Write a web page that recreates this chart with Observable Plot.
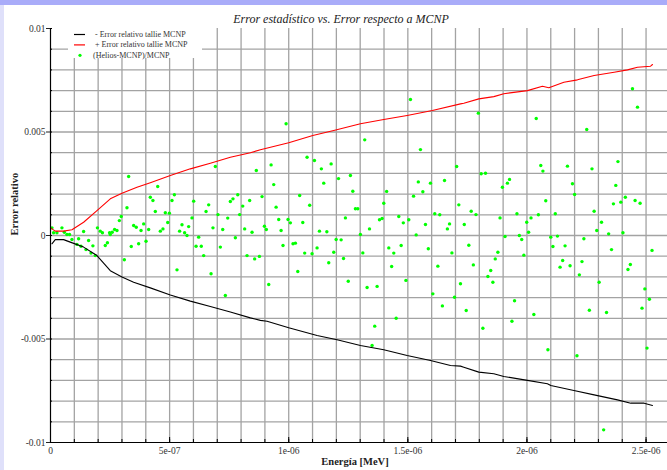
<!DOCTYPE html>
<html>
<head>
<meta charset="utf-8">
<script src="https://cdn.jsdelivr.net/npm/d3@7"></script>
<script src="https://cdn.jsdelivr.net/npm/@observablehq/plot@0.6"></script>
<style>
  html, body { margin: 0; padding: 0; }
  body { width: 667px; height: 470px; overflow: hidden; background: #a9acf9; position: relative; }
  #strip { position: absolute; left: 0; top: 5px; width: 4px; bottom: 0; background: #dfe0fa; }
  #panel { position: absolute; left: 4px; top: 5px; right: 0; bottom: 0; background: #ffffff; }
  #chart { position: absolute; left: 0; top: 0; }
</style>
</head>
<body>
<div id="strip"></div>
<div id="panel"></div>
<div id="chart"></div>
<script>
const SERIF = "'Liberation Serif', 'DejaVu Serif', serif";
const title = "Error estadístico vs. Error respecto a MCNP";
const xLabel = "Energía [MeV]";
const yLabel = "Error relativo";
const legendLabels = ["- Error relativo tallie MCNP", "+ Error relativo tallie MCNP", "(Helios-MCNP)/MCNP"];

const xTicks = [0, 5e-7, 1e-6, 1.5e-6, 2e-6, 2.5e-6];
const xTickLabels = ["0", "5e-07", "1e-06", "1.5e-06", "2e-06", "2.5e-06"];
const yTicks = [-0.01, -0.005, 0, 0.005, 0.01];
const yTickLabels = ["-0.01", "-0.005", "0", "0.005", "0.01"];

// Energies in units of 1e-7 MeV, errors in units of 1e-3
const E_UNIT = 1e-7, ERR_UNIT = 1e-3;

// "- Error relativo tallie MCNP" (black)
const lowerE = [0.06,0.20,0.55,0.83,1.39,1.95,2.51,3.00,3.49,4.19,5.03,5.87,6.71,7.55,8.39,8.81,9.09,10.0,11.19,12.03,13.01,13.99,14.97,15.95,16.79,17.21,17.35,17.98,18.61,19.03,20.02,20.86,21.0,21.97,22.82,23.80,24.36,24.92,25.27];
const lowerErr = [-0.40,-0.20,-0.20,-0.32,-0.56,-0.97,-1.70,-2.00,-2.26,-2.53,-2.87,-3.17,-3.43,-3.70,-3.98,-4.10,-4.14,-4.46,-4.83,-5.04,-5.31,-5.52,-5.80,-6.04,-6.28,-6.31,-6.36,-6.60,-6.68,-6.81,-7.00,-7.16,-7.25,-7.49,-7.70,-7.94,-8.10,-8.10,-8.21];

// "+ Error relativo tallie MCNP" (red)
const upperE = [0,0.20,0.55,0.90,1.39,1.95,2.51,3.0,3.63,4.19,5.03,5.87,6.71,7.55,8.39,8.81,10.0,11.01,11.89,13.01,13.99,14.97,16.03,17.21,17.35,17.98,18.61,19.03,20.02,20.65,20.92,21.55,22.12,22.82,23.66,24.22,24.64,25.19,25.27];
const upperErr = [0.37,0.21,0.21,0.28,0.64,1.20,1.77,2.04,2.33,2.55,2.90,3.22,3.49,3.78,4.00,4.14,4.48,4.83,5.07,5.40,5.60,5.80,6.04,6.36,6.39,6.60,6.71,6.85,7.00,7.21,7.14,7.40,7.52,7.73,7.89,8.00,8.13,8.18,8.26];

// "(Helios-MCNP)/MCNP" (green points)
const diffE = [3.28,4.50,4.19,4.30,5.20,5.10,3.21,2.97,2.89,4.40,4.82,4.99,3.49,3.60,3.80,3.91,4.12,4.61,4.72,4.92,5.42,5.52,5.63,5.73,5.80,5.94,6.01,6.22,6.53,6.64,6.82,6.92,7.03,7.23,7.44,7.55,7.66,7.76,7.86,7.94,8.07,8.15,8.36,8.46,8.64,
0.06,0.13,0.27,0.48,0.58,0.69,0.80,1.39,1.97,2.09,2.18,2.48,2.59,2.69,2.79,0.90,1.18,1.60,
1.11,1.28,1.49,1.70,1.78,1.88,2.30,2.39,2.51,3.10,3.39,3.70,4.01,5.31,6.11,6.33,6.43,6.74,7.13,7.34,8.25,8.57,8.77,
15.11,9.89,13.19,15.53,17.05,9.26,10.77,11.08,11.37,11.78,9.37,11.47,12.09,12.59,12.69,14.11,15.44,15.63,15.95,16.54,15.24,8.88,10.46,10.88,9.47,12.80,12.90,13.99,16.13,16.34,17.14,9.58,9.97,10.07,10.59,8.98,9.06,9.68,11.29,11.60,11.99,12.20,12.38,13.01,13.39,13.81,13.92,14.62,14.81,15.04,15.35,15.74,16.66,16.75,
9.16,9.76,10.18,10.28,10.38,10.67,10.98,11.19,11.68,11.89,12.30,12.50,13.11,13.29,13.61,13.50,13.71,14.20,14.32,14.41,14.51,14.72,14.92,15.86,16.05,16.26,16.45,16.85,16.96,17.21,
24.43,24.64,17.96,20.39,22.51,18.08,18.26,20.58,20.67,21.70,22.73,23.82,19.27,19.18,18.97,21.91,22.00,23.73,20.79,17.66,17.86,17.37,18.87,19.58,19.99,20.17,20.48,21.19,22.82,23.63,23.94,24.13,24.54,24.75,23.13,22.93,23.43,24.03,20.07,19.68,19.08,19.78,21.0,21.28,22.39,
17.45,17.56,17.75,18.15,18.36,18.48,18.57,18.67,18.78,19.37,19.48,19.87,20.29,20.88,21.09,21.39,21.50,21.60,21.81,22.10,22.20,22.31,22.62,23.03,23.22,23.34,23.55,24.24,24.34,24.83,24.95,25.04,25.14,25.25];
const diffErr = [2.85,2.37,1.85,1.69,1.97,1.69,1.34,0.92,0.72,1.16,1.10,1.08,0.48,0.40,0.24,0.56,0.29,0.21,0.32,0.63,0.21,0.52,0.13,0.0,0.43,0.85,1.66,-0.08,1.16,1.48,0.37,3.33,1.01,0.29,0.84,1.64,1.77,-0.11,1.97,1.01,1.42,0.32,1.69,0.16,3.14,
0.37,0.13,0.13,0.37,0.16,0.05,0.05,0.19,0.37,0.21,0.13,0.13,0.16,0.29,0.24,-0.19,-0.16,-0.24,
-0.43,-0.52,-0.68,-0.85,-0.50,-0.97,-0.48,-0.35,0.05,-1.17,-0.53,-0.40,-0.28,-1.66,-0.52,-0.52,-0.97,-1.85,-0.56,-2.90,-0.97,-1.13,-1.01,
6.57,5.40,4.62,4.15,3.33,3.41,3.78,3.62,3.22,3.46,2.46,2.53,2.75,2.90,2.14,2.13,2.59,2.11,2.53,2.66,1.90,1.88,1.93,1.46,1.37,1.29,1.29,1.56,1.05,1.00,1.48,0.77,0.77,0.61,0.63,0.45,0.29,0.24,0.21,0.18,-0.19,-0.21,0.85,0.05,0.32,0.76,0.82,0.92,0.61,0.76,0.03,0.53,0.32,0.56,
-2.37,-0.48,-0.40,-0.37,-1.74,-0.85,-0.88,-0.60,-1.32,-0.81,-1.11,-2.21,-0.84,-2.51,-4.38,-5.31,-2.46,-0.60,-1.50,-0.85,-4.00,-0.48,-2.17,-0.64,-2.82,-1.48,-3.40,-0.84,-2.98,-2.33,
7.09,6.20,5.91,5.65,5.12,2.98,3.01,3.38,3.11,3.35,3.22,3.57,2.71,2.53,2.33,2.50,1.98,2.42,1.68,1.17,1.01,0.53,0.85,1.05,0.64,0.85,1.00,1.05,1.17,1.53,1.61,1.85,1.69,1.56,0.64,0.24,0.08,0.13,0.16,0.0,-0.05,-0.19,-0.08,-0.03,-0.16,
-3.62,-0.47,-1.42,-4.48,-1.98,-1.69,-2.26,-1.13,-0.81,-4.14,-3.15,-0.95,-3.82,-5.52,-0.53,-1.53,-1.21,-0.50,-1.46,-5.81,-1.90,-1.26,-3.61,-2.26,-9.39,-3.72,-0.68,-1.64,-1.40,-3.51,-2.58,-5.44,-3.08,-0.72];

const lower = lowerE.map((e, i) => ({e: e * E_UNIT, v: lowerErr[i] * ERR_UNIT}));
const upper = upperE.map((e, i) => ({e: e * E_UNIT, v: upperErr[i] * ERR_UNIT}));
const diff = diffE.map((e, i) => ({e: e * E_UNIT, v: diffErr[i] * ERR_UNIT}));

const xGrid = d3.range(1, 26).map(i => i * 1e-7);
const yGrid = d3.range(-9, 10).map(i => i * 1e-3);
const yMinor = d3.range(-10, 11).map(i => i * 1e-3);

const W = 667, H = 470, ML = 50, MR = 0, MT = 28, MB = 28;
const frameW = W - ML - MR, frameH = H - MT - MB;
const GRID = "#a3a3a3";

const chart = Plot.plot({
  width: W, height: H,
  marginLeft: ML, marginRight: MR, marginTop: MT, marginBottom: MB,
  style: {background: "transparent", fontFamily: SERIF, fontSize: "9.5px", color: "#222", overflow: "visible"},
  x: {domain: [0, 2.59e-6]},
  y: {domain: [-0.01, 0.01]},
  marks: [
    Plot.ruleY(yGrid, {stroke: GRID, strokeWidth: 1.3}),
    Plot.ruleX(xGrid, {stroke: GRID, strokeWidth: 1.3}),
    Plot.dot(diff, {x: "e", y: "v", r: 1.7, fill: "#00ff00", stroke: "none"}),
    Plot.line(upper, {x: "e", y: "v", stroke: "#ff0000", strokeWidth: 1.1}),
    Plot.line(lower, {x: "e", y: "v", stroke: "#000000", strokeWidth: 1.1}),
    // axis lines
    Plot.ruleX([0], {stroke: "#000", strokeWidth: 1.2}),
    Plot.ruleY([-0.01], {stroke: "#000", strokeWidth: 1.2}),
    // inward minor ticks
    Plot.ruleX(xGrid, {stroke: "#000", strokeWidth: 1, insetTop: frameH - 3}),
    Plot.ruleX(xTicks, {stroke: "#000", strokeWidth: 1, insetTop: frameH - 5}),
    Plot.ruleY(yMinor, {stroke: "#000", strokeWidth: 1, insetRight: frameW - 2}),
    Plot.axisX(xTicks, {tickSize: 0, tickPadding: 5, tickFormat: (d, i) => xTickLabels[i], label: null, fontSize: "9.5px", fill: "#333"}),
    Plot.axisY(yTicks, {tickSize: 4, tickPadding: 1, tickFormat: (d, i) => yTickLabels[i], label: null, fontSize: "9.5px", fill: "#333"}),
    Plot.text([title], {frameAnchor: "top", dy: -14, dx: -18, fontStyle: "italic", fontSize: 12, fill: "#222"}),
    Plot.text([xLabel], {frameAnchor: "bottom", dy: 22, dx: -4, fontWeight: "bold", fontSize: 10.5, fill: "#222"}),
    Plot.text([yLabel], {frameAnchor: "left", dx: -36, rotate: -90, fontWeight: "bold", fontSize: 10.5, fill: "#222"})
  ]
});
document.getElementById("chart").appendChild(chart);

// legend box
const svg = d3.select(chart);
const lg = svg.append("g").attr("font-family", SERIF).attr("font-size", 8).attr("fill", "#333").attr("text-anchor", "start");
lg.append("rect").attr("x", 68).attr("y", 28).attr("width", 134).attr("height", 30).attr("fill", "#fff");
const legendColors = ["#000000", "#ff0000"];
legendLabels.forEach((lab, i) => {
  const cy = 34.5 + i * 10.4;
  if (i < 2) {
    lg.append("line").attr("x1", 74).attr("x2", 85).attr("y1", cy).attr("y2", cy)
      .attr("stroke", legendColors[i]).attr("stroke-width", 1.2);
  } else {
    lg.append("circle").attr("cx", 80).attr("cy", cy).attr("r", 1.6).attr("fill", "#00ff00");
  }
  lg.append("text").attr("x", i < 2 ? 95 : 93).attr("y", cy).attr("dy", "0.32em")
    .attr("text-anchor", "start").text(lab);
});
</script>
</body>
</html>
